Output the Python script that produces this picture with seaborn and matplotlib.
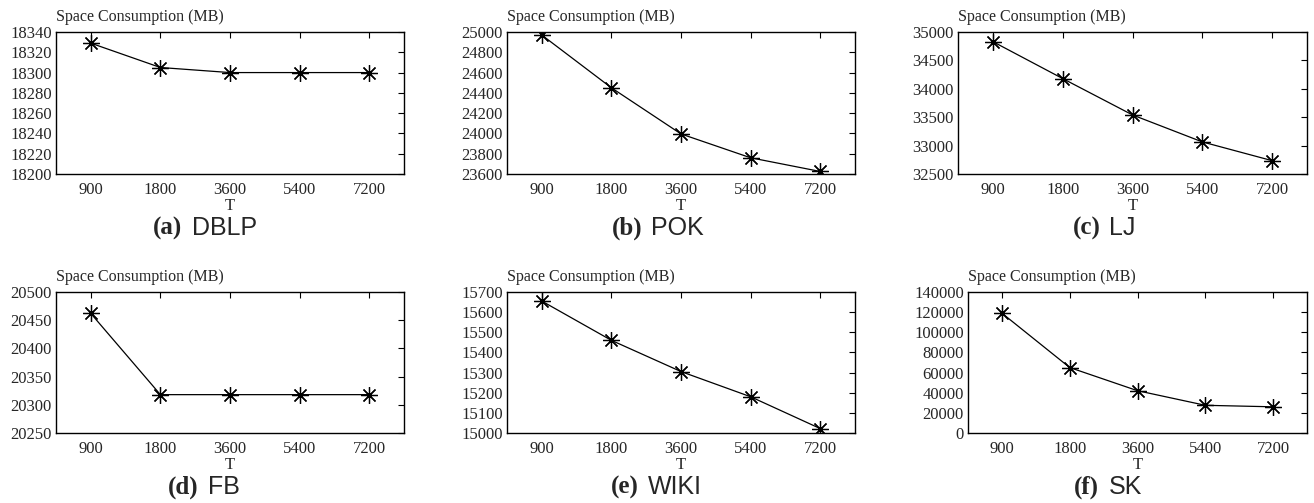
import pandas as pd
import seaborn as sns
import matplotlib.pyplot as plt

# x categories (T) shared by every panel
t_labels = ['900', '1800', '3600', '5400', '7200']

# space consumption per dataset (MB)
dblp = [18329, 18305, 18300, 18300, 18300]
pok = [24970, 24450, 23995, 23760, 23625]
lj = [34830, 34180, 33540, 33065, 32735]
fb = [20462, 20318, 20318, 20318, 20318]
wiki = [15655, 15460, 15305, 15180, 15022]
sk = [119000, 65000, 42000, 27500, 26000]

panel_tags = ['(a)', '(b)', '(c)', '(d)', '(e)', '(f)']
panel_names = ['DBLP', 'POK', 'LJ', 'FB', 'WIKI', 'SK']
y_limits = [(18200, 18340), (23600, 25000), (32500, 35000),
            (20250, 20500), (15000, 15700), (0, 140000)]
y_steps = [20, 200, 500, 50, 100, 20000]

sns.set_theme(style='white')
plt.rcParams['font.family'] = ['Liberation Serif', 'DejaVu Serif']

W, H = 1314, 503
fig = plt.figure(figsize=(W / 100, H / 100), dpi=100)

# axes boxes in pixels: left, top, right, bottom
boxes = [(56, 32, 404, 174), (507, 32, 855, 174), (958, 32, 1307, 174),
         (56, 292, 404, 433), (507, 292, 855, 433), (968, 292, 1307, 433)]
caption_x = [205, 658, 1104, 204, 656, 1108]
caption_y = [228, 228, 228, 487, 487, 487]

series = [dblp, pok, lj, fb, wiki, sk]
axes = []
for i, vals in enumerate(series):
    l, t, r, b = boxes[i]
    ax = fig.add_axes([l / W, 1 - b / H, (r - l) / W, (b - t) / H])
    df = pd.DataFrame({'T': t_labels, 'space': vals})
    sns.lineplot(data=df, x='T', y='space', ax=ax, color='black', lw=0.9,
                 marker=(8, 2, 0), markersize=12, markeredgewidth=0.9,
                 markeredgecolor='black', sort=False)
    lo, hi = y_limits[i]
    ax.set_ylim(lo, hi)
    ax.set_yticks(range(lo, hi + 1, y_steps[i]))
    ax.set_xlim(-0.5, 4.5)
    ax.tick_params(direction='in', top=True, right=True, length=4, width=0.8,
                   labelsize=12, color='black')
    ax.tick_params(axis='x', labeltop=False, pad=6)
    ax.tick_params(axis='y', pad=3)
    ax.set_xlabel('T', fontsize=12, labelpad=0)
    ax.set_ylabel('')
    for sp in ax.spines.values():
        sp.set_color('black')
        sp.set_linewidth(1.0)
    ax.text(0, 1.05, 'Space Consumption (MB)', transform=ax.transAxes,
            ha='left', va='bottom', fontsize=11.5)
    axes.append(ax)

# captions: bold serif tag followed by sans dataset name, centred as a pair
fig.canvas.draw()
renderer = fig.canvas.get_renderer()
for i in range(6):
    yf = 1 - caption_y[i] / H
    tag = fig.text(0, yf, panel_tags[i], fontsize=18, fontweight='bold',
                   ha='left', va='center')
    name = fig.text(0, yf, panel_names[i], fontsize=18, ha='left', va='center',
                    family=['Liberation Sans', 'DejaVu Sans'])
    w_tag = tag.get_window_extent(renderer).width
    w_name = name.get_window_extent(renderer).width
    gap = 9
    start = caption_x[i] - (w_tag + gap + w_name) / 2
    tag.set_x(start / W)
    name.set_x((start + w_tag + gap) / W)

fig.savefig('out.png', dpi=100)
